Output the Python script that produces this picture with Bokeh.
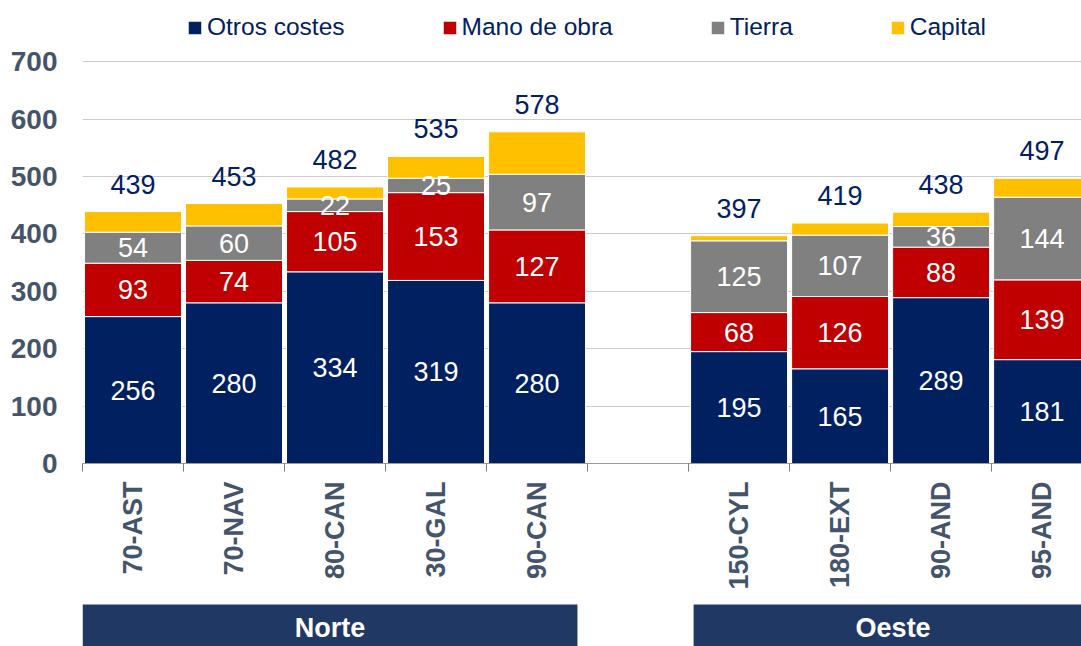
from math import pi
from bokeh.plotting import figure
from bokeh.models import ColumnDataSource, FixedTicker, Range1d
from bokeh.layouts import column
from bokeh.embed import file_html
from bokeh.resources import INLINE
from bokeh.core.properties import value

# ---------------- data ----------------
categories = ["70-AST", "70-NAV", "80-CAN", "30-GAL", "90-CAN",
              "150-CYL", "180-EXT", "90-AND", "95-AND"]
groups = ["Norte", "Norte", "Norte", "Norte", "Norte",
          "Oeste", "Oeste", "Oeste", "Oeste"]
otros = [256, 280, 334, 319, 280, 195, 165, 289, 181]
mano = [93, 74, 105, 153, 127, 68, 126, 88, 139]
tierra = [54, 60, 22, 25, 97, 125, 107, 36, 144]
capital = [36, 39, 21, 38, 74, 9, 21, 25, 33]
totals = [439, 453, 482, 535, 578, 397, 419, 438, 497]
series_names = ["Otros costes", "Mano de obra", "Tierra", "Capital"]
y_ticks = [0, 100, 200, 300, 400, 500, 600, 700]
group_names = ["Norte", "Oeste"]

# ---------------- styling ----------------
colors = ["#002060", "#C00000", "#808080", "#FFC000"]
FONT = "Liberation Sans"
AXIS_TXT = "#44546A"
NAVY_TXT = "#002060"
BOX = "#203864"

# slot positions: one empty slot between groups
slot = []
gi = 0
for i, g in enumerate(groups):
    if i > 0 and g != groups[i - 1]:
        gi += 1
    slot.append(i + gi)
xc = [s + 0.5 for s in slot]
n_slots = slot[-1] + 1

src = ColumnDataSource(dict(x=xc, otros=otros, mano=mano, tierra=tierra,
                            capital=capital, total=totals,
                            total_txt=[str(t) for t in totals]))

W = 1081
LEFT = 82
p = figure(width=W, height=598, x_range=Range1d(0, 9.89), y_range=Range1d(0, 806.8),
           output_backend="svg", toolbar_location=None,
           min_border_left=LEFT, min_border_right=0, min_border_top=0,
           min_border_bottom=135)
p.outline_line_color = None
p.background_fill_color = "white"

p.vbar_stack(["otros", "mano", "tierra", "capital"], x="x", width=0.96,
             color=colors, line_color="white", line_width=1, source=src,
             legend_label=series_names)

# segment labels
seg_lists = [otros, mano, tierra]
base = [0] * len(categories)
for vals in seg_lists:
    mids = [b + v / 2 for b, v in zip(base, vals)]
    p.text(x=xc, y=mids, text=[str(v) for v in vals], text_color="white",
           text_align="center", text_baseline="middle",
           text_font=value(FONT), text_font_size="27px")
    base = [b + v for b, v in zip(base, vals)]

# totals
p.text(x="x", y="total", text="total_txt", source=src,
       text_color=NAVY_TXT, text_align="center", text_baseline="bottom",
       y_offset=-18, text_font=value(FONT), text_font_size="27px")

# y axis
p.yaxis.ticker = FixedTicker(ticks=y_ticks)
p.yaxis.axis_line_color = None
p.yaxis.major_tick_line_color = None
p.yaxis.minor_tick_line_color = None
p.yaxis.major_tick_out = 0
p.yaxis.major_label_standoff = 25
p.yaxis.major_label_text_font = FONT
p.yaxis.major_label_text_font_style = "bold"
p.yaxis.major_label_text_font_size = "28px"
p.yaxis.major_label_text_color = AXIS_TXT
p.ygrid.ticker = FixedTicker(ticks=y_ticks)
p.ygrid.grid_line_color = "#CDCDCD"
p.ygrid.grid_line_width = 1
p.xgrid.visible = False

# x axis: labels at slot centres, small ticks at slot boundaries
p.xaxis.ticker = FixedTicker(ticks=xc, minor_ticks=list(range(n_slots + 1)))
p.xaxis.major_label_overrides = {x: c for x, c in zip(xc, categories)}
p.xaxis.major_tick_line_color = None
p.xaxis.minor_tick_line_color = "#808080"
p.xaxis.minor_tick_out = 8
p.xaxis.minor_tick_in = 0
p.xaxis.axis_line_color = "#9A9A9A"
p.xaxis.axis_line_width = 1
p.xaxis.major_label_orientation = pi / 2
p.xaxis.major_label_standoff = 10
p.xaxis.major_label_text_font = FONT
p.xaxis.major_label_text_font_style = "bold"
p.xaxis.major_label_text_font_size = "27px"
p.xaxis.major_label_text_color = AXIS_TXT

# legend
lg = p.legend[0]
lg.orientation = "horizontal"
lg.location = (104, 422)
lg.border_line_color = None
lg.background_fill_alpha = 0
lg.padding = 0
lg.margin = 0
lg.spacing = 96
lg.glyph_width = 17
lg.glyph_height = 17
lg.label_standoff = 4
lg.label_text_font = FONT
lg.label_text_font_size = "24.5px"
lg.label_text_color = NAVY_TXT

# group boxes
p2 = figure(width=W, height=48, x_range=p.x_range, y_range=Range1d(0, 48),
            output_backend="svg", toolbar_location=None,
            x_axis_location=None, y_axis_location=None,
            min_border_left=LEFT, min_border_right=0, min_border_top=0,
            min_border_bottom=0)
p2.outline_line_color = None
p2.grid.visible = False
g_left, g_right = [], []
for g in group_names:
    ss = [s for s, gg in zip(slot, groups) if gg == g]
    g_left.append(min(ss))
    g_right.append(max(ss) + 1)
g_left = [l + (0.05 if i > 0 else 0) for i, l in enumerate(g_left)]
g_right = [r - (0.1 if i == 0 else 0) for i, r in enumerate(g_right)]
p2.quad(left=g_left, right=g_right, top=42, bottom=-10, fill_color=BOX,
        line_color=None)
p2.text(x=[(l + r) / 2 for l, r in zip(g_left, g_right)], y=[19, 19],
        text=group_names, text_color="white", text_align="center",
        text_baseline="middle", text_font=value(FONT),
        text_font_style="bold", text_font_size="27px")

layout = column(p, p2, spacing=0)
open("out.html", "w").write(file_html(layout, INLINE))
